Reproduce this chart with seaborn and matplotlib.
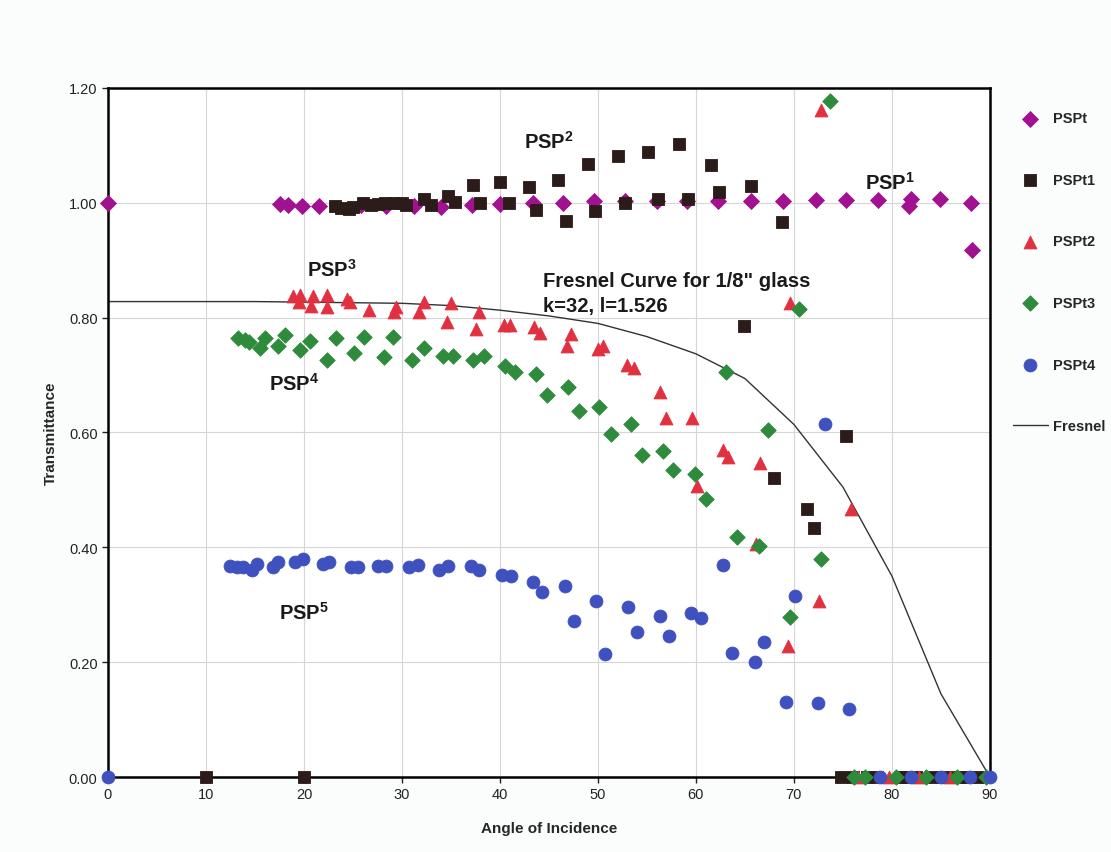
import matplotlib
matplotlib.use("Agg")
import matplotlib.pyplot as plt
import seaborn as sns
import pandas as pd

sns.set_theme(style="whitegrid")
plt.rcParams["font.family"] = ["Liberation Sans", "DejaVu Sans"]
plt.rcParams["mathtext.fontset"] = "custom"
plt.rcParams["mathtext.rm"] = "Liberation Sans"
plt.rcParams["mathtext.bf"] = "Liberation Sans:bold"

# --- measured transmittance vs. angle of incidence (degrees) ---
pspt_x = [0, 17.6, 18.4, 19.8, 21.5, 25.8, 28.4, 31.2, 34.0, 37.1, 40.0, 43.4, 46.4,
          49.6, 52.8, 56.0, 59.1, 62.3, 65.6, 68.9, 72.3, 75.3, 78.6, 81.9, 81.7,
          84.9, 88.1, 88.2]
pspt_y = [1.000, 0.998, 0.996, 0.994, 0.994, 0.997, 0.995, 0.995, 0.993, 0.996, 0.998,
          1.000, 0.999, 1.003, 1.003, 1.003, 1.003, 1.004, 1.004, 1.004, 1.005, 1.005,
          1.005, 1.007, 0.994, 1.006, 0.999, 0.917]

pspt1_x = [10, 20, 23.2, 23.8, 24.6, 25.0, 26.0, 26.8, 27.6, 28.3, 29.2, 30.0, 30.4,
           32.2, 33.0, 34.7, 35.4, 37.3, 38.0, 40.0, 40.9, 43.0, 43.7, 45.9, 46.7,
           49.0, 49.7, 52.0, 52.8, 55.1, 56.1, 58.3, 59.2, 61.5, 62.4, 65.6, 68.8,
           64.9, 68.0, 75.3, 71.3, 72.1,
           74.8, 76.0, 77.5, 78.5, 80.8, 81.5, 82.5, 84.2, 85.5, 86.8, 87.8, 88.8]
pspt1_y = [0, 0, 0.995, 0.991, 0.990, 0.993, 1.000, 0.997, 0.998, 1.000, 0.999, 0.999, 0.997,
           1.006, 0.996, 1.011, 1.002, 1.031, 0.999, 1.037, 1.000, 1.027, 0.987, 1.039, 0.968,
           1.067, 0.985, 1.082, 0.999, 1.088, 1.006, 1.102, 1.006, 1.065, 1.018, 1.030, 0.966,
           0.786, 0.521, 0.594, 0.466, 0.434,
           0, 0, 0, 0, 0, 0, 0, 0, 0, 0, 0, 0]

pspt2_x = [18.9, 19.6, 19.5, 20.9, 20.7, 22.4, 22.3, 24.4, 24.7, 26.6, 29.4, 29.2, 32.2,
           31.7, 35.0, 34.6, 37.9, 37.6, 40.4, 41.0, 43.5, 44.1, 47.2, 46.8, 50.0, 50.5,
           53.0, 53.7, 56.3, 56.9, 59.6, 62.8, 63.3, 66.5, 60.1, 66.1, 72.8, 69.6, 75.8,
           72.6, 69.4, 76.5, 79.7, 82.8, 85.9]
pspt2_y = [0.837, 0.839, 0.828, 0.837, 0.821, 0.839, 0.819, 0.832, 0.828, 0.813, 0.818,
           0.809, 0.828, 0.809, 0.826, 0.793, 0.809, 0.780, 0.788, 0.788, 0.783, 0.774,
           0.772, 0.750, 0.746, 0.750, 0.718, 0.713, 0.670, 0.626, 0.626, 0.570, 0.558,
           0.547, 0.506, 0.406, 1.161, 0.826, 0.467, 0.307, 0.228, 0, 0, 0, 0]

pspt3_x = [13.3, 14.0, 14.4, 15.5, 16.0, 17.4, 18.1, 19.6, 20.6, 22.4, 23.3, 25.1, 26.1,
           28.2, 29.1, 31.0, 32.2, 34.2, 35.2, 37.3, 38.4, 40.5, 41.5, 43.7, 44.8, 46.9,
           48.1, 50.1, 51.3, 53.4, 54.5, 56.6, 57.7, 59.9, 61.0, 63.1, 67.4, 64.2, 66.4,
           73.7, 70.5, 72.8, 69.6, 76.1, 77.3, 80.4, 83.5, 86.6, 89.6]
pspt3_y = [0.765, 0.761, 0.758, 0.748, 0.764, 0.751, 0.769, 0.743, 0.760, 0.726, 0.764,
           0.738, 0.767, 0.731, 0.767, 0.727, 0.748, 0.734, 0.734, 0.727, 0.734, 0.715,
           0.706, 0.701, 0.665, 0.680, 0.638, 0.645, 0.598, 0.615, 0.561, 0.568, 0.534,
           0.527, 0.485, 0.705, 0.605, 0.418, 0.403, 1.177, 0.815, 0.380, 0.279,
           0, 0, 0, 0, 0, 0]

pspt4_x = [0, 12.5, 13.2, 13.8, 14.7, 15.2, 16.8, 17.4, 19.1, 19.9, 21.9, 22.6, 24.8,
           25.5, 27.6, 28.4, 30.7, 31.6, 33.8, 34.7, 37.0, 37.9, 40.2, 41.1, 43.4, 44.3,
           46.6, 47.6, 49.8, 50.7, 53.1, 54.0, 56.3, 57.3, 59.5, 60.5, 62.8, 63.7, 66.0,
           66.9, 69.2, 70.1, 72.5, 75.6, 73.2, 78.8, 81.9, 85.0, 88.0, 90.0]
pspt4_y = [0, 0.368, 0.366, 0.366, 0.361, 0.371, 0.366, 0.375, 0.375, 0.380, 0.371,
           0.375, 0.366, 0.366, 0.368, 0.368, 0.366, 0.370, 0.361, 0.368, 0.368, 0.361,
           0.352, 0.350, 0.340, 0.322, 0.333, 0.272, 0.307, 0.214, 0.296, 0.253, 0.281,
           0.246, 0.286, 0.277, 0.370, 0.216, 0.200, 0.235, 0.130, 0.316, 0.129, 0.118,
           0.614, 0, 0, 0, 0, 0]

# Fresnel transmittance of 1/8" glass (k=32, n=1.526)
fresnel_x = [0, 5, 10, 15, 20, 25, 30, 35, 40, 45, 50, 55, 60, 65, 70, 75, 80, 85, 90]
fresnel_y = [0.828, 0.828, 0.828, 0.828, 0.827, 0.826, 0.825, 0.821, 0.813, 0.803,
             0.790, 0.767, 0.737, 0.694, 0.614, 0.505, 0.350, 0.145, 0.0]

series = [
    ("PSPt", pspt_x, pspt_y, "D", "#A0128F", 66),
    ("PSPt1", pspt1_x, pspt1_y, "s", "#2B1B19", 70),
    ("PSPt2", pspt2_x, pspt2_y, "^", "#E1303F", 86),
    ("PSPt3", pspt3_x, pspt3_y, "D", "#2E8B3C", 62),
    ("PSPt4", pspt4_x, pspt4_y, "o", "#3F51BE", 86),
]

fig = plt.figure(figsize=(11.11, 8.53), dpi=100)
fig.patch.set_facecolor("#FBFDFC")
ax = fig.add_axes([0.0972, 0.0879, 0.7938, 0.8078])
ax.set_facecolor("white")

for i, (name, xs, ys, mk, col, sz) in enumerate(series):
    df = pd.DataFrame({"angle": xs, "trans": ys})
    sns.scatterplot(data=df, x="angle", y="trans", ax=ax, marker=mk, color=col,
                    s=sz, edgecolor=col, linewidth=0.6, label=name, zorder=3 + i,
                    clip_on=False)

fdf = pd.DataFrame({"angle": fresnel_x, "trans": fresnel_y})
sns.lineplot(data=fdf, x="angle", y="trans", ax=ax, color="#333333", linewidth=1.0,
             label="Fresnel", zorder=2)

ax.set_xlim(0, 90)
ax.set_ylim(0, 1.2)
ax.set_xticks(range(0, 91, 10))
ax.set_yticks([0, 0.2, 0.4, 0.6, 0.8, 1.0, 1.2])
ax.set_yticklabels([f"{v:.2f}" for v in [0, 0.2, 0.4, 0.6, 0.8, 1.0, 1.2]])
ax.tick_params(axis="both", labelsize=10.5, colors="#222222", length=4,
               direction="out", left=True, bottom=True, width=1)
ax.grid(True, color="#D6D6D6", linewidth=0.8)
for sp in ax.spines.values():
    sp.set_color("black")
    sp.set_linewidth(1.8)

ax.set_xlabel("Angle of Incidence", fontsize=11, fontweight="bold", labelpad=14)
ax.set_ylabel("Transmittance", fontsize=11, fontweight="bold", labelpad=8)

# curve group labels
lab_kw = dict(fontsize=14.5, fontweight="bold", color="#1a1a1a", zorder=10)
ax.text(42.5, 1.095, r"PSP$^{\mathbf{2}}$", **lab_kw)
ax.text(77.3, 1.025, r"PSP$^{\mathbf{1}}$", **lab_kw)
ax.text(20.3, 0.873, r"PSP$^{\mathbf{3}}$", **lab_kw)
ax.text(16.4, 0.675, r"PSP$^{\mathbf{4}}$", **lab_kw)
ax.text(17.5, 0.275, r"PSP$^{\mathbf{5}}$", **lab_kw)
ax.text(44.4, 0.855, "Fresnel Curve for 1/8\" glass", **lab_kw)
ax.text(44.4, 0.811, "k=32, l=1.526", **lab_kw)

leg = ax.legend(loc="upper left", bbox_to_anchor=(1.026, 0.966), frameon=False,
                labelspacing=3.26, handletextpad=0.35, fontsize=10.5,
                handlelength=2.4, borderaxespad=0, borderpad=0)
for t in leg.get_texts():
    t.set_fontweight("bold")

fig.savefig("out.png", dpi=100, facecolor=fig.get_facecolor())
